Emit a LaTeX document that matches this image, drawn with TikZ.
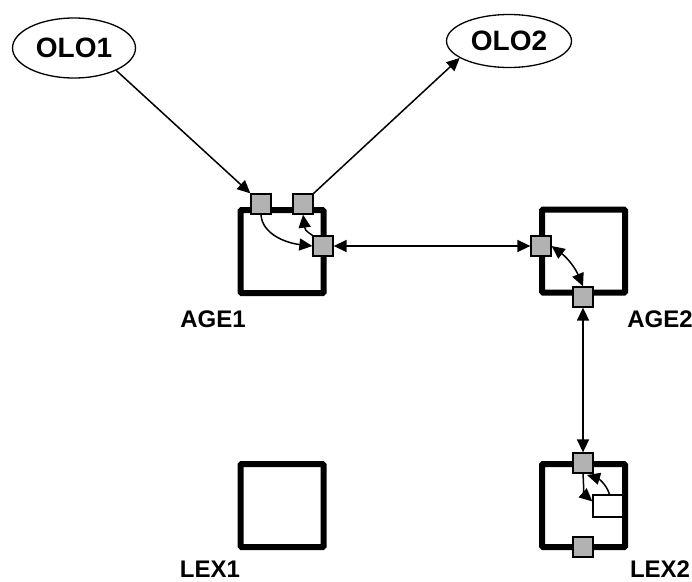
\documentclass[tikz,border=0pt]{standalone}
\usepackage{fontspec}
\setmainfont{Liberation Sans}
\usetikzlibrary{shapes.geometric,arrows.meta}
\begin{document}
\begin{tikzpicture}[x=1pt,y=-1pt,line width=1.5pt,
  >={Triangle[length=13pt,width=12pt]},
  box/.style={draw,line width=6pt,rounded corners=1pt,minimum size=83pt,inner sep=0pt},
  port/.style={draw,fill=gray!60,line width=1.3pt,minimum size=20pt,inner sep=0pt},
  olo/.style={draw,ellipse,line width=1.3pt,inner sep=0pt,font=\bfseries\fontsize{28}{28}\selectfont},
  lbl/.style={font=\bfseries\fontsize{24}{24}\selectfont}]
\useasboundingbox (0,0) rectangle (692,581);
\node[olo,minimum width=123pt,minimum height=60pt] (olo1) at (74,48) {OLO1};
\node[olo,minimum width=125pt,minimum height=53pt] (olo2) at (509,41) {OLO2};
\node[box] (age1) at (282,251.5) {};
\node[box] (age2) at (583.5,251) {};
\node[box] (lex1) at (282,505.5) {};
\node[box] (lex2) at (583.5,505.5) {};
\node[draw,line width=1.3pt,minimum width=33pt,minimum height=22pt,inner sep=0pt] (l2sub) at (609.5,506) {};
\node[port] (a1in) at (261,204) {};
\node[port] (a1out) at (303,204) {};
\node[port] (a1east) at (323,246) {};
\node[port] (a2west) at (541,246) {};
\node[port] (a2south) at (583,297) {};
\node[port] (l2north) at (583,463) {};
\node[port] (l2south) at (583,547) {};
\node[lbl] (age1lbl) at (213,319) {AGE1};
\node[lbl] (age2lbl) at (660,319) {AGE2};
\node[lbl] (lex1lbl) at (210,569) {LEX1};
\node[lbl] (lex2lbl) at (660,569) {LEX2};
% links between components
\draw[->] (olo1.-28) -- (a1in.north west);
\draw[->] (a1out.north east) -- (olo2.-161);
\draw[<->] (a1east) -- (a2west);
\draw[<->] (a2south) -- (l2north);
% inside AGE1
\draw[->] (a1in.south) .. controls (262,234) and (286,243) .. (a1east.west);
\draw[->] (a1east.north west) .. controls (305,230) .. (a1out.south);
% inside AGE2
\draw[<->] (a2west.east) to[bend left=15] (a2south.north);
% inside LEX2
\draw[->] (l2sub.north) .. controls (606,483) and (597,478) .. (587,475);
\draw[->] (l2north.south) .. controls (584,494) .. (l2sub.165);
\end{tikzpicture}
\end{document}
